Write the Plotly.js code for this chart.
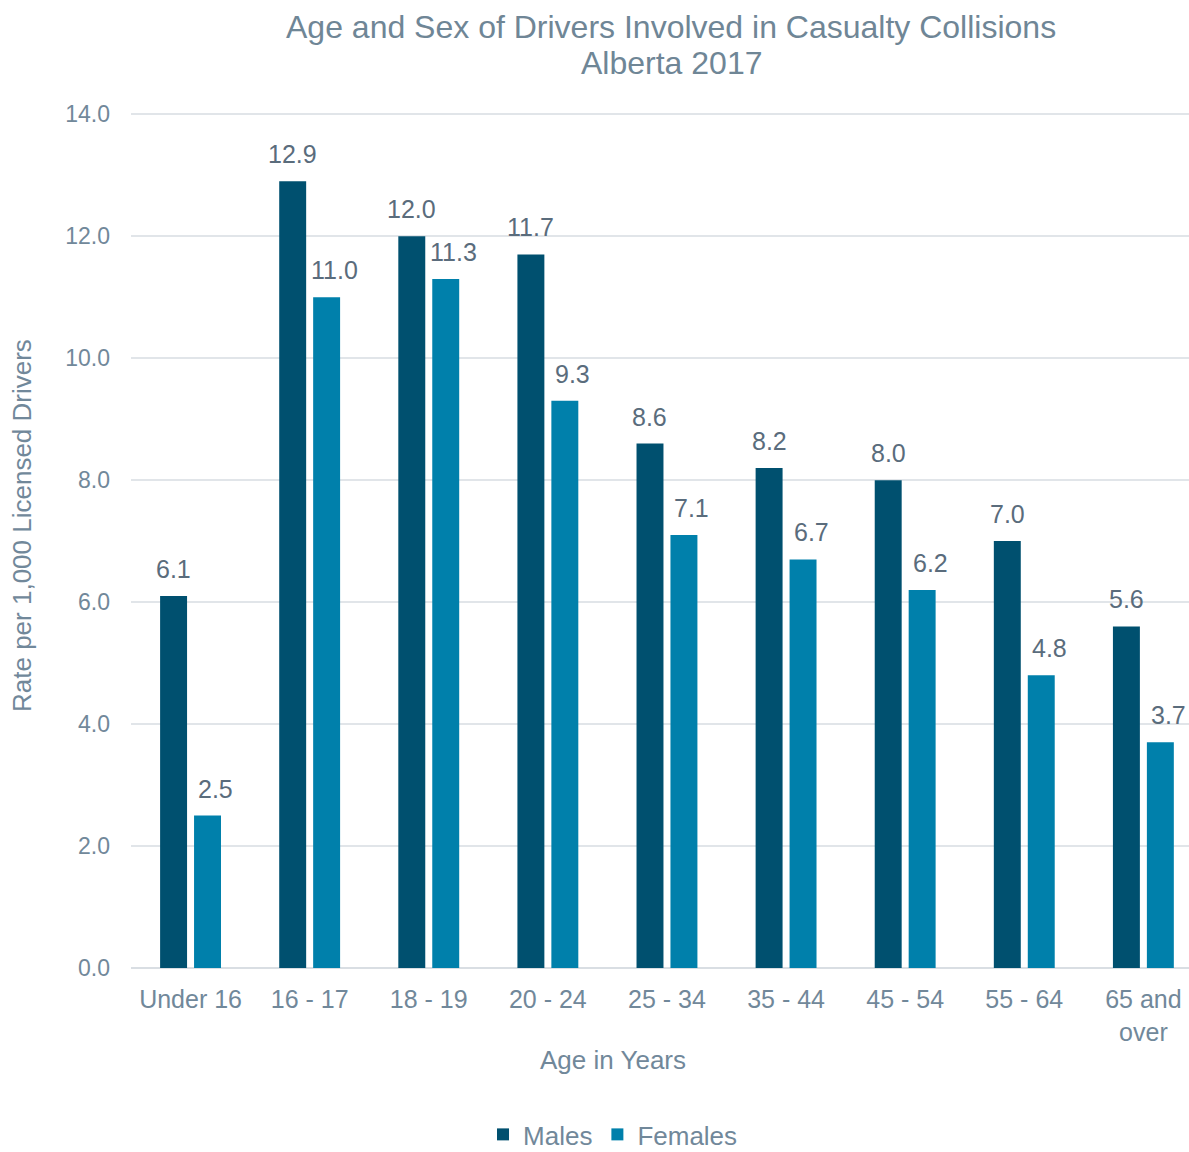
<!DOCTYPE html>
<html>
<head>
<meta charset="utf-8">
<script src="https://cdn.plot.ly/plotly-3.0.1.min.js"></script>
<style>
  html, body { margin: 0; padding: 0; background: #ffffff; }
  #chart { width: 1189px; height: 1152px; }
</style>
</head>
<body>
<div id="chart"></div>
<script>
// Casualty collision rates per 1,000 licensed drivers, Alberta 2017
const ageGroups = ['Under 16', '16 - 17', '18 - 19', '20 - 24', '25 - 34', '35 - 44', '45 - 54', '55 - 64', '65 and<br>over'];
const malesRate = [6.1, 12.9, 12.0, 11.7, 8.6, 8.2, 8.0, 7.0, 5.6];
const femalesRate = [2.5, 11.0, 11.3, 9.3, 7.1, 6.7, 6.2, 4.8, 3.7];
const yTicks = [0, 2, 4, 6, 8, 10, 12, 14];

const MALE_COLOR = '#00506F';
const FEMALE_COLOR = '#0080AB';
const AXIS_TEXT = '#71889A';
const LABEL_TEXT = '#5A6C7C';
const TITLE_TEXT = '#6F8696';
const FONT = 'Liberation Sans, Arial, sans-serif';

const traces = [
  {
    type: 'bar', name: 'Males', x: ageGroups, y: malesRate,
    marker: { color: MALE_COLOR }, hoverinfo: 'skip'
  },
  {
    type: 'bar', name: 'Females', x: ageGroups, y: femalesRate,
    marker: { color: FEMALE_COLOR }, hoverinfo: 'skip'
  }
];

// value labels above each bar, placed from the same series values
const valueLabels = [];
ageGroups.forEach((g, i) => {
  valueLabels.push({
    x: g, y: malesRate[i], xref: 'x', yref: 'y',
    text: malesRate[i].toFixed(1), showarrow: false,
    xshift: -17, yshift: 27, yanchor: 'middle',
    font: { family: FONT, size: 25, color: LABEL_TEXT }
  });
  valueLabels.push({
    x: g, y: femalesRate[i], xref: 'x', yref: 'y',
    text: femalesRate[i].toFixed(1), showarrow: false,
    xshift: 25, yshift: 27, yanchor: 'middle',
    font: { family: FONT, size: 25, color: LABEL_TEXT }
  });
});

const extraText = [
  {
    // second title line (province and year), set a little tighter than a <br>
    text: 'Alberta 2017', xref: 'paper', yref: 'paper',
    x: 0.5104, y: 1.0585, xanchor: 'center', yanchor: 'middle',
    showarrow: false, font: { family: FONT, size: 32, color: TITLE_TEXT }
  },
  {
    text: 'Age in Years', xref: 'paper', yref: 'paper',
    x: 0.4556, y: -0.1076, xanchor: 'center', yanchor: 'middle',
    showarrow: false, font: { family: FONT, size: 26, color: AXIS_TEXT }
  },
  {
    text: 'Rate per 1,000 Licensed Drivers', xref: 'paper', yref: 'paper',
    x: -0.103, y: 0.517, xanchor: 'center', yanchor: 'middle', textangle: -90,
    showarrow: false, font: { family: FONT, size: 26, color: AXIS_TEXT }
  }
];

const layout = {
  width: 1189, height: 1152,
  margin: { l: 131, r: 0, t: 113, b: 184, autoexpand: false },
  paper_bgcolor: '#ffffff', plot_bgcolor: '#ffffff',
  font: { family: FONT, color: AXIS_TEXT },
  title: {
    text: 'Age and Sex of Drivers Involved in Casualty Collisions',
    font: { family: FONT, size: 32, color: TITLE_TEXT },
    xref: 'container', yref: 'container',
    x: 0.5644, xanchor: 'center', y: 0.9766, yanchor: 'middle'
  },
  barmode: 'group', bargap: 0.43, bargroupgap: 0.206,
  xaxis: {
    type: 'category', range: [-0.5, 8.383], automargin: false,
    showgrid: false, zeroline: false, showline: false,
    ticks: '', ticklabelstandoff: 14,
    tickfont: { family: FONT, size: 25, color: AXIS_TEXT }
  },
  yaxis: {
    range: [0, 14.02], tickvals: yTicks, automargin: false,
    tickformat: '.1f',
    showgrid: true, gridcolor: '#E1E5E9', gridwidth: 1.5,
    zeroline: true, zerolinecolor: '#D9DEE3', zerolinewidth: 2,
    showline: false, ticks: '', ticklabelstandoff: 20,
    tickfont: { family: FONT, size: 23, color: AXIS_TEXT }
  },
  showlegend: true,
  legend: {
    orientation: 'h', x: 0.4556, xanchor: 'center', y: -0.2222, yanchor: 'bottom',
    font: { family: FONT, size: 26, color: AXIS_TEXT },
    itemclick: false, itemdoubleclick: false
  },
  annotations: valueLabels.concat(extraText)
};

Plotly.newPlot('chart', traces, layout, { staticPlot: true, displayModeBar: false });
</script>
</body>
</html>
